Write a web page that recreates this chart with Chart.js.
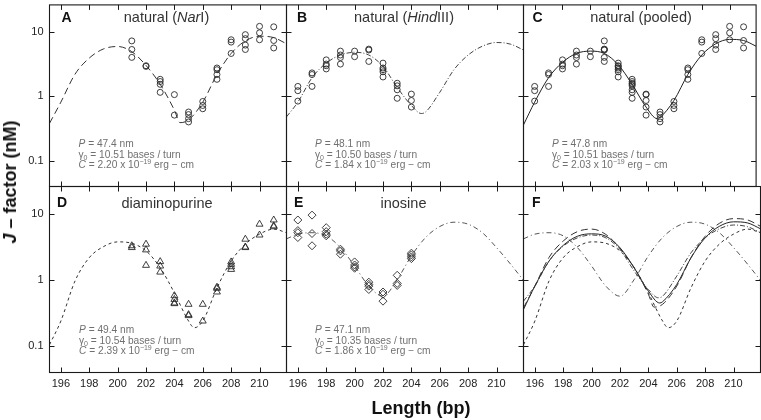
<!DOCTYPE html>
<html><head><meta charset="utf-8">
<script src="https://cdn.jsdelivr.net/npm/chart.js@4.4.1/dist/chart.umd.min.js"></script>
<style>
html,body{margin:0;padding:0;background:#fff;}
body{width:761px;height:420px;overflow:hidden;position:relative;font-family:"Liberation Sans",Arial,Helvetica,sans-serif;}
canvas{position:absolute;left:0;top:0;}
.t{position:absolute;white-space:nowrap;}
.lab{font-weight:bold;font-size:14px;line-height:14px;color:#111;}
.ttl{font-size:14.5px;line-height:14px;color:#333;transform:translateX(-50%);}
.par{font-size:10.2px;line-height:10.7px;color:#707070;}
.par sub{font-size:7px;vertical-align:-2px;line-height:0;}
.par sup{font-size:7px;vertical-align:4px;line-height:0;}
</style></head>
<body>
<canvas id="cA" width="761" height="420"></canvas>
<canvas id="cB" width="761" height="420"></canvas>
<canvas id="cC" width="761" height="420"></canvas>
<canvas id="cD" width="761" height="420"></canvas>
<canvas id="cE" width="761" height="420"></canvas>
<canvas id="cF" width="761" height="420"></canvas>

<div class="t lab" style="left:61.5px;top:9.5px">A</div>
<div class="t lab" style="left:297px;top:9.5px">B</div>
<div class="t lab" style="left:532.5px;top:9.5px">C</div>
<div class="t lab" style="left:57px;top:195px">D</div>
<div class="t lab" style="left:294px;top:195px">E</div>
<div class="t lab" style="left:532px;top:195px">F</div>

<div class="t ttl" style="left:166.5px;top:10px">natural (<i>Nar</i>I)</div>
<div class="t ttl" style="left:404px;top:10px">natural (<i>Hind</i>III)</div>
<div class="t ttl" style="left:641px;top:10px">natural (pooled)</div>
<div class="t ttl" style="left:167px;top:196px">diaminopurine</div>
<div class="t ttl" style="left:403.5px;top:196px">inosine</div>

<div class="t par" style="left:78.5px;top:139px"><i>P</i> = 47.4 nm<br>γ<sub>0</sub> = 10.51 bases / turn<br><i>C</i> = 2.20 x 10<sup>−19</sup> erg − cm</div>
<div class="t par" style="left:315px;top:139px"><i>P</i> = 48.1 nm<br>γ<sub>0</sub> = 10.50 bases / turn<br><i>C</i> = 1.84 x 10<sup>−19</sup> erg − cm</div>
<div class="t par" style="left:552px;top:139px"><i>P</i> = 47.8 nm<br>γ<sub>0</sub> = 10.51 bases / turn<br><i>C</i> = 2.03 x 10<sup>−19</sup> erg − cm</div>
<div class="t par" style="left:79px;top:325px"><i>P</i> = 49.4 nm<br>γ<sub>0</sub> = 10.54 bases / turn<br><i>C</i> = 2.39 x 10<sup>−19</sup> erg − cm</div>
<div class="t par" style="left:315px;top:325px"><i>P</i> = 47.1 nm<br>γ<sub>0</sub> = 10.35 bases / turn<br><i>C</i> = 1.86 x 10<sup>−19</sup> erg − cm</div>

<div class="t" style="left:421px;top:399px;transform:translateX(-50%);font-weight:bold;font-size:18px;line-height:18px;color:#111;">Length (bp)</div>
<div class="t" style="left:10px;top:182px;transform:translate(-50%,-50%) rotate(-90deg);font-weight:bold;font-size:18px;line-height:18px;color:#111;"><i>J</i> – factor (nM)</div>

<script>
// ---- axes ----
const X_MIN = 195.2, X_MAX = 211.9;
const Y_MIN = 0.04, Y_MAX = 26;
const X_TICKS = [196, 198, 200, 202, 204, 206, 208, 210];
const Y_TICKS = [0.1, 1, 10];

// ---- fitted curves ----
const CURVE_A_X = [195.2,196,197,198,199,200,201,202,203,204,204.4,205,206,207,208,209,210,211,211.9];
const CURVE_A_Y = [0.38,0.81,2.2,3.9,5.4,5.9,4.9,3.0,1.53,0.61,0.39,0.43,0.81,2.17,4.6,7.2,8.5,8.1,6.5];
const CURVE_B_X = [195.2,196,197,198,199,200,201,202,203,204,204.7,205,206,207,208,209,210,211,211.9];
const CURVE_B_Y = [0.48,0.81,1.94,3.26,4.35,4.8,4.35,2.9,1.37,0.72,0.54,0.57,1.15,2.58,4.35,5.96,6.8,6.4,5.2];
const CURVE_C_X = [195.2,196,197,198,199,200,201,202,203,204,204.8,205,206,207,208,209,210,211,211.9];
const CURVE_C_Y = [0.36,0.81,1.94,3.35,4.6,5.0,4.6,3.08,1.53,0.68,0.45,0.47,0.86,2.17,4.35,6.5,7.6,7.3,5.96];
const CURVE_D_X = [195.2,196,197,198,199,200,201,202,203,204,205,205.4,206,207,208,209,210,211,211.9];
const CURVE_D_Y = [0.105,0.24,0.97,2.18,3.2,3.78,3.6,2.76,1.54,0.64,0.24,0.19,0.24,0.76,1.94,3.49,4.95,5.9,5.2];
const CURVE_E_X = [195.2,196,197,198,199,200,201,202,203,204,205,206,207,208,209,210,211,211.9];
const CURVE_E_Y = [4.2,4.95,5.2,4.67,3.1,1.63,0.81,0.57,1.02,2.32,4.4,6.46,7.5,7.0,5.2,3.1,1.73,0.99];

const NARI_X = [201,201,201,202,202,203,203,203,203,204,204,205,205,205,205,206,206,206,207,207,207,207,208,208,208,209,209,209,209,210,210,210,211,211,211];
const NARI_Y = [7.2,5.3,4.0,2.97,2.9,1.83,1.69,1.53,1.15,1.06,0.51,0.57,0.52,0.45,0.40,0.83,0.72,0.64,2.74,2.58,2.17,1.83,7.5,6.9,4.6,9.0,7.8,6.2,5.3,12.1,9.6,7.5,11.9,7.3,5.6];
const HIND_X = [196,196,196,197,197,197,198,198,198,198,199,199,199,199,200,200,201,201,201,202,202,202,202,202,203,203,203,203,204,204,204];
const HIND_Y = [1.42,1.22,0.84,2.3,2.17,1.42,3.66,3.15,2.97,2.65,5.0,4.35,3.98,3.15,5.0,4.1,5.37,5.2,3.46,3.26,2.74,2.58,2.39,1.99,1.59,1.45,1.26,0.93,1.08,0.86,0.68];
const DAP_X = [201,201,202,202,202,203,203,203,204,204,204,204,205,205,205,206,206,207,207,207,208,208,208,208,209,209,209,210,210,211,211,211];
const DAP_Y = [3.3,3.1,3.49,2.86,1.67,1.9,1.63,1.32,0.58,0.51,0.45,0.44,0.43,0.30,0.29,0.43,0.24,0.78,0.75,0.66,1.88,1.73,1.59,1.45,4.15,3.16,3.1,7.0,4.8,8.1,6.6,6.4];
const INO_X = [196,196,196,196,197,197,197,198,198,198,198,199,199,199,200,200,200,200,201,201,201,201,202,202,202,203,203,203,204,204,204,204];
const INO_Y = [8.1,5.6,5.2,4.4,9.6,5.06,3.3,6.2,5.4,4.95,4.67,2.93,2.76,2.46,1.88,1.69,1.58,1.51,0.93,0.86,0.81,0.72,0.66,0.61,0.48,1.18,0.89,0.83,2.55,2.4,2.24,2.11];
const POOLED_X = HIND_X.concat(NARI_X);
const POOLED_Y = HIND_Y.concat(NARI_Y);

const TICK_FONT = '"Liberation Sans Narrow","Liberation Sans",Arial,sans-serif';

function pts(xs, ys){ return xs.map((x,i)=>({x:x, y:ys[i]})); }

const STYLE = {
  A:{color:'#333', dash:[7,4]},
  B:{color:'#444', dash:[5,2,1,2]},
  C:{color:'#222', dash:[]},
  D:{color:'#333', dash:[3,3]},
  E:{color:'#555', dash:[5,3,1,3]}
};

function curve(xs, ys, st){
  return {type:'line', data:pts(xs,ys), borderColor:st.color, borderWidth:1, borderDash:st.dash,
          pointRadius:0, fill:false, cubicInterpolationMode:'monotone', showLine:true, order:2};
}
function marks(xs, ys, style, r){
  return {type:'scatter', data:pts(xs,ys), showLine:false, pointStyle:style, pointRadius:r,
          pointBorderColor:'#2a2a2a', borderColor:'#2a2a2a', pointBorderWidth:0.9,
          pointBackgroundColor:'rgba(0,0,0,0)', backgroundColor:'rgba(0,0,0,0)', order:1};
}

const framePlugin = {
  id:'frame',
  afterDatasetsDraw(chart){
    const ctx = chart.ctx, a = chart.chartArea, x = chart.scales.x, y = chart.scales.y;
    ctx.save();
    ctx.strokeStyle = '#1a1a1a';
    ctx.lineWidth = 1.1;
    ctx.setLineDash([]);
    ctx.strokeRect(a.left, a.top, a.right - a.left, a.bottom - a.top);
    ctx.beginPath();
    X_TICKS.forEach(v => {
      const px = Math.round(x.getPixelForValue(v)) + 0.5;
      ctx.moveTo(px, a.top); ctx.lineTo(px, a.top + 5);
      ctx.moveTo(px, a.bottom); ctx.lineTo(px, a.bottom - 5);
    });
    Y_TICKS.forEach(v => {
      const py = Math.round(y.getPixelForValue(v)) + 0.5;
      ctx.moveTo(a.left, py); ctx.lineTo(a.left + 5, py);
      ctx.moveTo(a.right, py); ctx.lineTo(a.right - 5, py);
    });
    ctx.lineWidth = 1;
    ctx.stroke();
    ctx.restore();
  }
};

const X_AXIS_H = 30;     // room for x tick labels (bottom row)

function panel(id, box, showX, showY, datasets){
  const yw = showY ? box[0] : 0;
  const xh = showX ? X_AXIS_H : 0;
  return new Chart(document.getElementById(id), {
    type:'scatter',
    data:{datasets:datasets},
    options:{
      responsive:false, maintainAspectRatio:false, animation:false, devicePixelRatio:1, events:[],
      layout:{padding:{left:box[0] - yw, top:box[1], right:761 - box[2], bottom:420 - box[3] - xh}},
      plugins:{legend:{display:false}, tooltip:{enabled:false}, title:{display:false}},
      scales:{
        x:{type:'linear', min:X_MIN, max:X_MAX, position:'bottom',
           afterBuildTicks:s => { s.ticks = X_TICKS.map(v => ({value:v})); },
           afterFit:s => { s.height = xh; s.paddingLeft = 0; s.paddingRight = 0; },
           grid:{display:false, drawTicks:false}, border:{display:false},
           ticks:{display:showX, padding:5, color:'#222', autoSkip:false, maxRotation:0,
                  font:{family:TICK_FONT, size:11}, callback:v => String(v)}},
        y:{type:'logarithmic', min:Y_MIN, max:Y_MAX, position:'left',
           afterBuildTicks:s => { s.ticks = Y_TICKS.map(v => ({value:v})); },
           afterFit:s => { s.width = yw; s.paddingTop = 0; s.paddingBottom = 0; },
           grid:{display:false, drawTicks:false}, border:{display:false},
           ticks:{display:showY, padding:6, color:'#222',
                  font:{family:TICK_FONT, size:11}, callback:v => String(v)}}
      }
    },
    plugins:[framePlugin]
  });
}

const COLS = [[49.5, 286.5], [286.5, 523.5], [523.5, 760.5]];
const ROWS = [[0.5, 186.5], [186.5, 372.5]];
function box(c, r){ return [COLS[c][0], ROWS[r][0], COLS[c][1], ROWS[r][1]]; }

panel('cA', box(0,0), false, true, [curve(CURVE_A_X, CURVE_A_Y, STYLE.A), marks(NARI_X, NARI_Y, 'circle', 3)]);
panel('cB', box(1,0), false, false, [curve(CURVE_B_X, CURVE_B_Y, STYLE.B), marks(HIND_X, HIND_Y, 'circle', 3)]);
panel('cC', box(2,0), false, false, [curve(CURVE_C_X, CURVE_C_Y, STYLE.C), marks(POOLED_X, POOLED_Y, 'circle', 3)]);
panel('cD', box(0,1), true, true, [curve(CURVE_D_X, CURVE_D_Y, STYLE.D), marks(DAP_X, DAP_Y, 'triangle', 4)]);
panel('cE', box(1,1), true, false, [curve(CURVE_E_X, CURVE_E_Y, STYLE.E), marks(INO_X, INO_Y, 'rectRot', 4)]);
panel('cF', box(2,1), true, false, [
  curve(CURVE_A_X, CURVE_A_Y, STYLE.A),
  curve(CURVE_B_X, CURVE_B_Y, STYLE.B),
  curve(CURVE_C_X, CURVE_C_Y, STYLE.C),
  curve(CURVE_D_X, CURVE_D_Y, STYLE.D),
  curve(CURVE_E_X, CURVE_E_Y, STYLE.E)
]);
</script>
</body></html>
